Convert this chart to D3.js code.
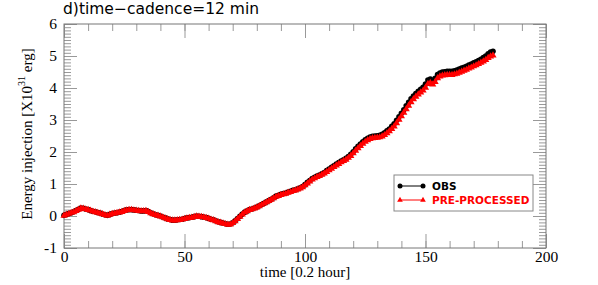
<!DOCTYPE html>
<html>
<head>
<meta charset="utf-8">
<script src="https://cdn.jsdelivr.net/npm/d3@7"></script>
<style>
  body { margin: 0; background: #fff; }
  svg { display: block; }
</style>
</head>
<body>
<div id="chart"></div>
<script>

// time axis runs 0..178 in steps of 1 (units of 0.2 hour)
var obs = [
  0.02, 0.05, 0.08, 0.10, 0.13, 0.17, 0.21, 0.25, 0.24, 0.22,
  0.20, 0.17, 0.15, 0.13, 0.11, 0.09, 0.06, 0.04, 0.02, 0.05,
  0.08, 0.09, 0.10, 0.12, 0.14, 0.17, 0.19, 0.20, 0.20, 0.19,
  0.18, 0.17, 0.16, 0.16, 0.17, 0.14, 0.10, 0.07, 0.04, 0.02,
  0.00, -0.03, -0.06, -0.09, -0.11, -0.13, -0.13, -0.12, -0.11, -0.10,
  -0.08, -0.06, -0.05, -0.04, -0.02, 0.00, -0.01, -0.02, -0.03, -0.05,
  -0.07, -0.10, -0.12, -0.15, -0.18, -0.20, -0.22, -0.24, -0.26, -0.25,
  -0.21, -0.15, -0.08, -0.01, 0.06, 0.12, 0.16, 0.20, 0.22, 0.25,
  0.28, 0.32, 0.36, 0.40, 0.44, 0.48, 0.52, 0.57, 0.62, 0.65,
  0.68, 0.70, 0.72, 0.75, 0.77, 0.80, 0.82, 0.85, 0.88, 0.92,
  0.98, 1.05, 1.11, 1.17, 1.21, 1.25, 1.28, 1.32, 1.36, 1.42,
  1.47, 1.52, 1.57, 1.62, 1.67, 1.72, 1.76, 1.80, 1.86, 1.93,
  2.01, 2.10, 2.18, 2.25, 2.32, 2.38, 2.43, 2.47, 2.49, 2.50,
  2.51, 2.52, 2.55, 2.60, 2.66, 2.72, 2.80, 2.88, 2.99, 3.10,
  3.21, 3.32, 3.44, 3.55, 3.66, 3.75, 3.83, 3.90, 3.96, 4.02,
  4.12, 4.25, 4.28, 4.22, 4.30, 4.42, 4.47, 4.50, 4.51, 4.52,
  4.52, 4.52, 4.54, 4.56, 4.59, 4.62, 4.65, 4.68, 4.72, 4.75,
  4.79, 4.82, 4.86, 4.90, 4.95, 5.00, 5.07, 5.12, 5.15
];

var preprocessed = [
  0.01, 0.04, 0.07, 0.10, 0.12, 0.16, 0.20, 0.24, 0.23, 0.21,
  0.19, 0.17, 0.14, 0.12, 0.10, 0.08, 0.06, 0.03, 0.01, 0.04,
  0.07, 0.08, 0.10, 0.11, 0.13, 0.16, 0.18, 0.19, 0.19, 0.18,
  0.17, 0.16, 0.15, 0.15, 0.16, 0.13, 0.09, 0.06, 0.03, 0.01,
  -0.01, -0.04, -0.07, -0.10, -0.12, -0.14, -0.14, -0.13, -0.12, -0.11,
  -0.09, -0.07, -0.06, -0.05, -0.03, -0.01, -0.02, -0.03, -0.04, -0.06,
  -0.08, -0.11, -0.13, -0.16, -0.19, -0.21, -0.23, -0.25, -0.27, -0.26,
  -0.22, -0.16, -0.09, -0.02, 0.05, 0.11, 0.15, 0.19, 0.21, 0.24,
  0.27, 0.31, 0.35, 0.39, 0.43, 0.47, 0.51, 0.56, 0.60, 0.63,
  0.66, 0.68, 0.70, 0.73, 0.75, 0.78, 0.80, 0.83, 0.86, 0.90,
  0.96, 1.02, 1.08, 1.14, 1.18, 1.22, 1.25, 1.29, 1.33, 1.38,
  1.43, 1.48, 1.53, 1.58, 1.63, 1.68, 1.72, 1.76, 1.82, 1.88,
  1.96, 2.04, 2.12, 2.19, 2.26, 2.32, 2.37, 2.41, 2.43, 2.44,
  2.45, 2.46, 2.49, 2.53, 2.59, 2.65, 2.72, 2.80, 2.90, 3.01,
  3.12, 3.23, 3.34, 3.45, 3.56, 3.65, 3.73, 3.80, 3.86, 3.92,
  4.01, 4.13, 4.16, 4.11, 4.19, 4.31, 4.36, 4.39, 4.40, 4.41,
  4.41, 4.41, 4.43, 4.45, 4.48, 4.51, 4.54, 4.57, 4.61, 4.64,
  4.68, 4.71, 4.75, 4.79, 4.83, 4.88, 4.94, 4.99, 5.02
];

var xMajorTicks = [0, 50, 100, 150, 200];
var yMajorTicks = [-1, 0, 1, 2, 3, 4, 5, 6];
var seriesNames = ["OBS", "PRE-PROCESSED"];
var titleText = "d)time\u2212cadence=12 min";
var xTitle = "time [0.2 hour]";

var serif = "'Liberation Serif', 'Times New Roman', serif";

// sizes
var W = 598, H = 285;
var margin = {top: 24, right: 52, bottom: 37, left: 64};
var width = W - margin.left - margin.right,
    height = H - margin.top - margin.bottom;

var svg = d3.select("#chart")
  .append("svg")
    .attr("width", W)
    .attr("height", H);

var g = svg.append("g")
    .attr("transform", "translate(" + margin.left + "," + margin.top + ")");

var x = d3.scaleLinear().domain([0, 200]).range([0, width]);
var y = d3.scaleLinear().domain([-1, 6]).range([height, 0]);

var xMinor = d3.range(0, 201, 10);
var yMinor = d3.range(-10, 61, 1).map(function(d) { return d / 10; });

var tickColor = "#999";
var plain = function(d) { return String(d); };   // hyphen minus like the original

// helper to strip domain path and colour ticks
function styleAxis(sel) {
  sel.select(".domain").remove();
  sel.selectAll(".tick line").attr("stroke", tickColor);
}

// minor ticks (all four sides, pointing in)
g.append("g").attr("transform", "translate(0," + height + ")")
  .call(d3.axisBottom(x).tickValues(xMinor).tickSize(-7).tickFormat(""))
  .call(styleAxis);
g.append("g")
  .call(d3.axisTop(x).tickValues(xMinor).tickSize(-7).tickFormat(""))
  .call(styleAxis);
g.append("g")
  .call(d3.axisLeft(y).tickValues(yMinor).tickSize(-7).tickFormat(""))
  .call(styleAxis);
g.append("g").attr("transform", "translate(" + width + ",0)")
  .call(d3.axisRight(y).tickValues(yMinor).tickSize(-7).tickFormat(""))
  .call(styleAxis);

// major ticks with labels
var xAxis = g.append("g").attr("transform", "translate(0," + height + ")")
  .call(d3.axisBottom(x).tickValues(xMajorTicks).tickSize(-14).tickFormat(plain))
  .call(styleAxis);
xAxis.selectAll("text")
  .attr("y", 3)
  .style("font-family", serif)
  .style("font-size", "15.5px")
  .attr("fill", "#000");

g.append("g")
  .call(d3.axisTop(x).tickValues(xMajorTicks).tickSize(-14).tickFormat(""))
  .call(styleAxis);

var yAxis = g.append("g")
  .call(d3.axisLeft(y).tickValues(yMajorTicks).tickSize(-13).tickFormat(plain))
  .call(styleAxis);
yAxis.selectAll("text")
  .attr("x", -7)
  .style("font-family", serif)
  .style("font-size", "15.5px")
  .attr("fill", "#000");

g.append("g").attr("transform", "translate(" + width + ",0)")
  .call(d3.axisRight(y).tickValues(yMajorTicks).tickSize(-13).tickFormat(""))
  .call(styleAxis);

// frame
g.append("rect")
  .attr("x", 0).attr("y", 0)
  .attr("width", width).attr("height", height)
  .attr("fill", "none")
  .attr("stroke", "#777")
  .attr("stroke-width", 1);

// series
var line = d3.line()
  .x(function(d, i) { return x(i); })
  .y(function(d) { return y(d); });

g.append("path")
  .datum(obs)
  .attr("fill", "none")
  .attr("stroke", "#000")
  .attr("stroke-width", 1)
  .attr("d", line);

g.selectAll(".obs-pt")
  .data(obs)
  .enter()
  .append("circle")
    .attr("class", "obs-pt")
    .attr("cx", function(d, i) { return x(i); })
    .attr("cy", function(d) { return y(d); })
    .attr("r", 2.8)
    .attr("fill", "#000");

g.append("path")
  .datum(preprocessed)
  .attr("fill", "none")
  .attr("stroke", "#ff0000")
  .attr("stroke-width", 1)
  .attr("d", line);

var tri = d3.symbol().type(d3.symbolTriangle).size(22);
g.selectAll(".pre-pt")
  .data(preprocessed)
  .enter()
  .append("path")
    .attr("class", "pre-pt")
    .attr("d", tri)
    .attr("transform", function(d, i) { return "translate(" + x(i) + "," + y(d) + ")"; })
    .attr("fill", "#ff0000");

// legend
var leg = svg.append("g").attr("transform", "translate(394,175)");
leg.append("rect")
  .attr("width", 139).attr("height", 36)
  .attr("fill", "#fff")
  .attr("stroke", "#888");

var legColors = ["#000", "#ff0000"];
seriesNames.forEach(function(name, i) {
  var ly = 11 + i * 14;
  leg.append("line")
    .attr("x1", 6).attr("x2", 29)
    .attr("y1", ly).attr("y2", ly)
    .attr("stroke", legColors[i]).attr("stroke-width", 1);
  [6, 29].forEach(function(px) {
    if (i === 0) {
      leg.append("circle").attr("cx", px).attr("cy", ly).attr("r", 2.5).attr("fill", legColors[i]);
    } else {
      leg.append("path").attr("d", d3.symbol().type(d3.symbolTriangle).size(14))
        .attr("transform", "translate(" + px + "," + ly + ")").attr("fill", legColors[i]);
    }
  });
  leg.append("text")
    .attr("x", 38).attr("y", ly + 4)
    .style("font-family", "'DejaVu Sans', sans-serif")
    .style("font-weight", "bold")
    .style("font-size", "10.5px")
    .attr("fill", legColors[i])
    .text(name);
});

// title
svg.append("text")
  .attr("x", 63).attr("y", 14)
  .style("font-family", "'DejaVu Sans', sans-serif")
  .style("font-size", "15.5px")
  .attr("fill", "#000")
  .text(titleText);

// x title
svg.append("text")
  .attr("x", margin.left + width / 2).attr("y", 277)
  .attr("text-anchor", "middle")
  .style("font-family", serif)
  .style("font-size", "15px")
  .attr("fill", "#000")
  .text(xTitle);

// y title with superscript
var yt = svg.append("text")
  .attr("transform", "translate(32," + (margin.top + height / 2 - 2) + ") rotate(-90)")
  .attr("text-anchor", "middle")
  .style("font-family", serif)
  .style("font-size", "15px")
  .attr("fill", "#000");
yt.append("tspan").text("Energy injection [X10");
yt.append("tspan").attr("dy", -7).style("font-size", "10px").text("31");
yt.append("tspan").attr("dy", 7).text(" erg]");

</script>
</body>
</html>
